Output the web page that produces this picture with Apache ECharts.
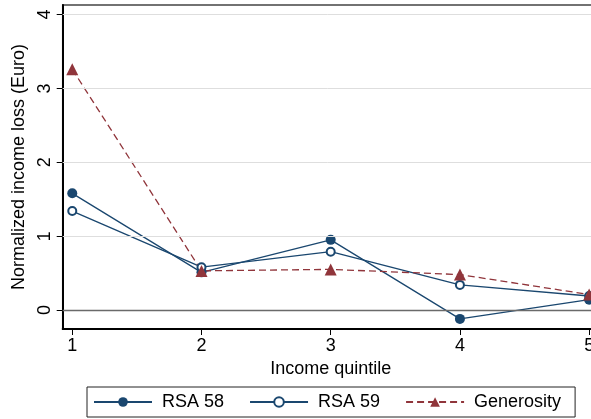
<!DOCTYPE html>
<html>
<head>
<meta charset="utf-8">
<script src="https://cdn.jsdelivr.net/npm/echarts@6/dist/echarts.min.js"></script>
<style>
html,body{margin:0;padding:0;background:#fff;}
#c{width:591px;height:419px;}
</style>
</head>
<body>
<div id="c"></div>
<script>
var quintiles = [1, 2, 3, 4, 5];
var rsa58 = [1.58, 0.51, 0.95, -0.12, 0.14];
var rsa59 = [1.34, 0.58, 0.79, 0.34, 0.19];
var generosity = [3.26, 0.53, 0.55, 0.48, 0.21];
var yTicks = [0, 1, 2, 3, 4];
var gridValues = [1, 2, 3, 4];

function pairs(vals) { return quintiles.map(function (q, i) { return [q, vals[i]]; }); }

var navy = '#1a476f', maroon = '#90353b';
var font = 'Liberation Sans, Arial, sans-serif';

var chart = echarts.init(document.getElementById('c'), null, {renderer: 'canvas'});
chart.setOption({
  animation: false,
  backgroundColor: '#fff',
  grid: {left: 62.7, top: 5, width: 536, height: 324, containLabel: false, outerBoundsMode: 'none',
         show: true, borderColor: '#444', borderWidth: 1.5, backgroundColor: 'transparent'},
  xAxis: {
    type: 'value', min: 0.926, max: 5.074,
    name: 'Income quintile', nameLocation: 'middle', nameGap: 28,
    nameTextStyle: {fontSize: 18, fontFamily: font, color: '#000'},
    axisLine: {show: true, onZero: false, lineStyle: {color: '#000', width: 2}},
    axisTick: {show: true, length: 6, customValues: quintiles, lineStyle: {color: '#000', width: 1}},
    axisLabel: {customValues: quintiles, fontSize: 18, fontFamily: font, color: '#000', margin: 8, hideOverlap: false},
    splitLine: {show: false}
  },
  yAxis: {
    type: 'value', min: -0.257, max: 4.13,
    name: 'Normalized income loss (Euro)', nameLocation: 'middle', nameGap: 32, nameRotate: 90,
    nameTextStyle: {fontSize: 18, fontFamily: font, color: '#000'},
    axisLine: {show: true, onZero: false, lineStyle: {color: '#000', width: 2}},
    axisTick: {show: true, length: 6, customValues: yTicks, lineStyle: {color: '#000', width: 1}},
    axisLabel: {customValues: yTicks, rotate: 90, fontSize: 18, fontFamily: font, color: '#000', margin: 9},
    splitLine: {show: false}
  },
  legend: {
    data: ['RSA 58', 'RSA 59', 'Generosity'],
    left: 87, top: 387,
    padding: [6, 14, 6, 6],
    borderColor: '#222', borderWidth: 1,
    itemWidth: 58, itemHeight: 12, itemGap: 25,
    textStyle: {fontSize: 18, fontFamily: font, color: '#000', padding: [0, 0, 0, 5]}
  },
  series: [
    {
      name: 'grid', type: 'line', data: [], z: 1, silent: true,
      markLine: {
        silent: true, symbol: 'none', label: {show: false}, animation: false,
        data: gridValues.map(function (v) { return {yAxis: v, lineStyle: {color: '#dedede', width: 1, type: 'solid'}}; })
          .concat([{yAxis: 0, lineStyle: {color: '#6a6a6a', width: 1.3, type: 'solid'}}])
      }
    },
    {
      name: 'RSA 58', type: 'line', data: pairs(rsa58), z: 3,
      symbol: 'circle', symbolSize: 10,
      itemStyle: {color: navy},
      lineStyle: {color: navy, width: 1.3}
    },
    {
      name: 'RSA 59', type: 'line', data: pairs(rsa59), z: 3,
      symbol: 'emptyCircle', symbolSize: 8,
      itemStyle: {color: navy, borderColor: navy, borderWidth: 1.3},
      lineStyle: {color: navy, width: 1.3}
    },
    {
      name: 'Generosity', type: 'line', data: pairs(generosity), z: 3,
      symbol: 'triangle', symbolSize: 12,
      itemStyle: {color: maroon},
      lineStyle: {color: maroon, width: 1.3, type: [7, 4]}
    }
  ]
});
</script>
</body>
</html>
